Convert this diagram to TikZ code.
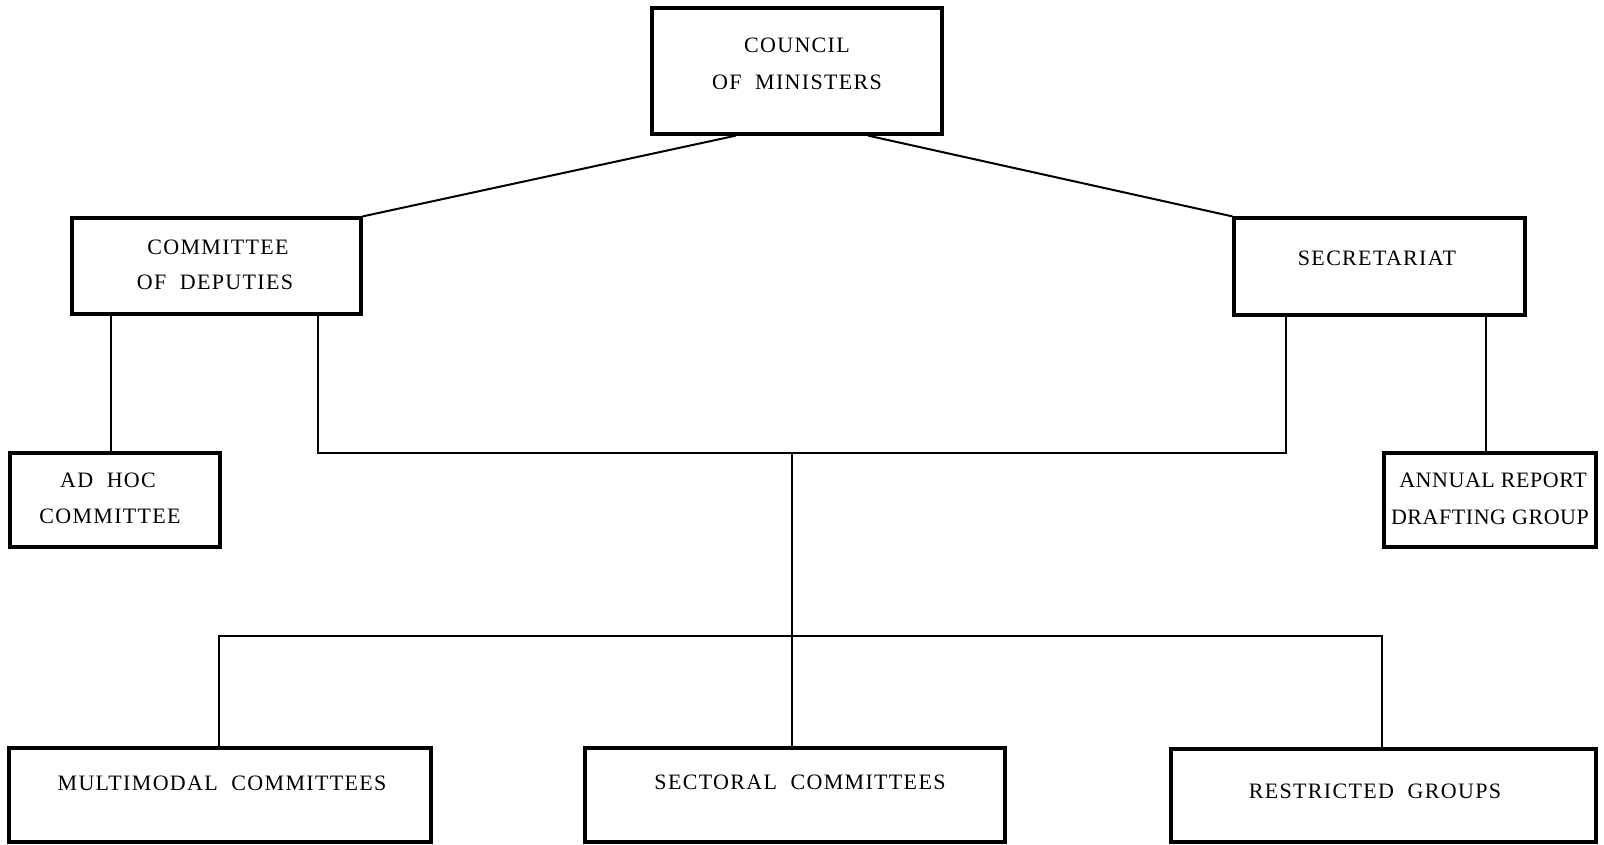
\documentclass[tikz,border=0pt]{standalone}
\usepackage{fontspec}
\setmainfont{Liberation Serif}[LetterSpace=6,WordSpace=2]
\newfontfamily\tightfont{Liberation Serif}[LetterSpace=2.5]
\usetikzlibrary{calc}
\begin{document}
\begin{tikzpicture}[x=1pt,y=-1pt,
  box/.style={draw,line width=3.2pt,inner sep=0pt},
  lbl/.style={font=\fontsize{22}{24}\selectfont,inner sep=0pt,anchor=center},
  tlbl/.style={font=\tightfont\fontsize{22}{24}\selectfont,inner sep=0pt,anchor=center},
  link/.style={line width=2pt}]
\useasboundingbox (0,0) rectangle (1604,844);
% boxes
\node[box,minimum width=290,minimum height=126] (council) at (797,71) {};
\node[box,minimum width=289,minimum height=96] (dep) at (216.5,266) {};
\node[box,minimum width=291,minimum height=97] (sec) at (1379.5,266.5) {};
\node[box,minimum width=210,minimum height=94] (adhoc) at (115,500) {};
\node[box,minimum width=212,minimum height=94] (annual) at (1490,500) {};
\node[box,minimum width=422,minimum height=94] (multi) at (220,795) {};
\node[box,minimum width=420,minimum height=94] (sect) at (795,795) {};
\node[box,minimum width=425,minimum height=93] (restr) at (1383.5,795.5) {};
% texts
\node[lbl] (t1) at (797,45) {COUNCIL};
\node[lbl] (t2) at (797,82) {OF MINISTERS};
\node[lbl] (t3) at (218,247) {COMMITTEE};
\node[lbl] (t4) at (215,282) {OF DEPUTIES};
\node[lbl] (t5) at (1377,258) {SECRETARIAT};
\node[lbl] (t6) at (108,480) {AD HOC};
\node[lbl] (t7) at (110,516) {COMMITTEE};
\node[tlbl] (t8) at (1493,480) {ANNUAL REPORT};
\node[tlbl] (t9) at (1490,517) {DRAFTING GROUP};
\node[lbl] (t10) at (222,783) {MULTIMODAL COMMITTEES};
\node[lbl] (t11) at (800,782) {SECTORAL COMMITTEES};
\node[lbl] (t12) at (1375,791) {RESTRICTED GROUPS};
% junction coordinates
\coordinate (jl) at (318,453);
\coordinate (jr) at (1286,453);
\coordinate (jc) at (792,453);
\coordinate (bl) at (219,636);
\coordinate (bc) at (792,636);
\coordinate (br) at (1382,636);
% connectors
\draw[link] (council.south -| 736,0) -- (dep.north east);
\draw[link] (council.south -| 868,0) -- (sec.north west);
\draw[link] (dep.south -| 111,0) -- (adhoc.north -| 111,0);
\draw[link] (sec.south -| 1486,0) -- (annual.north -| 1486,0);
\draw[link] (dep.south -| jl) -- (jl) -- (jr) -- (sec.south -| jr);
\draw[link] (jc) -- (bc) -- (sect.north -| bc);
\draw[link] (multi.north -| bl) -- (bl) -- (br) -- (restr.north -| br);
\end{tikzpicture}
\end{document}
